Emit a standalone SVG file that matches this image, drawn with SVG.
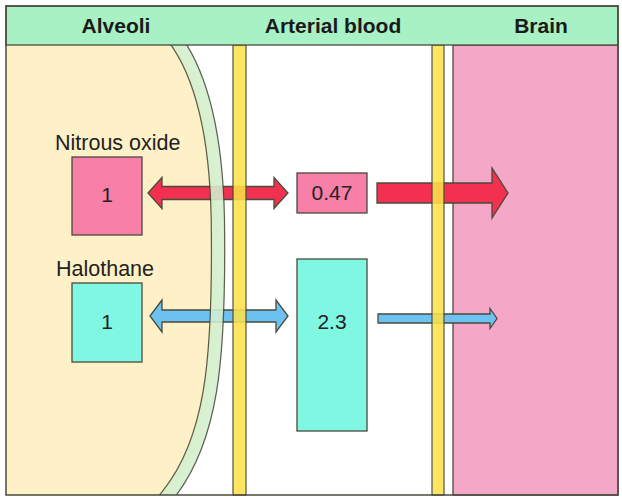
<svg xmlns="http://www.w3.org/2000/svg" width="622" height="497" viewBox="0 0 622 497">
<defs>
<style>
.ol{stroke:#4a4a3c;stroke-width:1.3}
.hdr{font-family:"Liberation Sans",Arial,sans-serif;font-weight:bold;font-size:21px;fill:#1a1a1a;text-anchor:middle}
.lbl{font-family:"Liberation Sans",Arial,sans-serif;font-size:21.5px;fill:#222}
.num{font-family:"Liberation Sans",Arial,sans-serif;font-size:21px;fill:#222;text-anchor:middle}
</style>
<clipPath id="frame"><rect x="6" y="45" width="612" height="450"/></clipPath>
</defs>
<rect x="0" y="0" width="622" height="497" fill="#ffffff"/>
<g id="brain-region">
<rect x="453" y="45" width="165" height="450" fill="#f4a7c6" class="ol"/>
</g>
<g id="alveoli-region" clip-path="url(#frame)">
<path d="M6,45 L179,45 C205,85 218,150 218,235 C219,360 212,440 168,495 L6,495 Z" fill="#fef1c8"/>
</g>
<g id="arrows">
<polygon points="148,193 162,177.5 162,186.5 274,186.5 274,177.5 288,193 274,208.5 274,199.5 162,199.5 162,208.5" fill="#f2304f" class="ol"/>
<polygon points="377,183 492,183 492,168 508,193 492,218 492,203 377,203" fill="#f2304f" class="ol"/>
<polygon points="150,316 162,300 162,310 276,310 276,300 288,316 276,332 276,322 162,322 162,332" fill="#6ec2f2" class="ol"/>
<polygon points="378,314 490,314 490,308.5 497,318.5 490,328.5 490,323 378,323" fill="#6ec2f2" class="ol"/>
</g>
<g id="membranes" opacity="0.88">
<g clip-path="url(#frame)">
<path d="M169,30 L179,45 C205,85 218,150 218,235 C219,360 212,440 168,495 L160,505" fill="none" stroke="#4a4a3c" stroke-width="14.5"/>
<path d="M169,30 L179,45 C205,85 218,150 218,235 C219,360 212,440 168,495 L160,505" fill="none" stroke="#d3f0cf" stroke-width="12"/>
</g>
<rect x="233" y="45" width="13" height="450" fill="#fde24a" class="ol"/>
<rect x="432" y="45" width="12" height="450" fill="#fde24a" class="ol"/>
</g>
<g id="header">
<rect x="6" y="6" width="612" height="39" fill="#a8f1c4" class="ol"/>
<text class="hdr" x="116" y="33">Alveoli</text>
<text class="hdr" x="333" y="33">Arterial blood</text>
<text class="hdr" x="541" y="33">Brain</text>
</g>
<g id="frame-border">
<rect x="6" y="6" width="612" height="489" fill="none" stroke="#4a4a3c" stroke-width="1.5"/>
</g>
<g id="nitrous-alveoli">
<text class="lbl" x="55" y="150">Nitrous oxide</text>
<rect x="72" y="157" width="70" height="78" fill="#f77fa8" class="ol"/>
<text class="num" x="107" y="202">1</text>
</g>
<g id="nitrous-blood">
<rect x="297" y="173" width="70" height="40" fill="#f77fa8" class="ol"/>
<text class="num" x="332" y="200">0.47</text>
</g>
<g id="halothane-alveoli">
<text class="lbl" x="56" y="276">Halothane</text>
<rect x="72" y="283" width="70" height="79" fill="#7ff7e2" class="ol"/>
<text class="num" x="107" y="329">1</text>
</g>
<g id="halothane-blood">
<rect x="297" y="259" width="70" height="172" fill="#7ff7e2" class="ol"/>
<text class="num" x="332" y="329">2.3</text>
</g>
</svg>
